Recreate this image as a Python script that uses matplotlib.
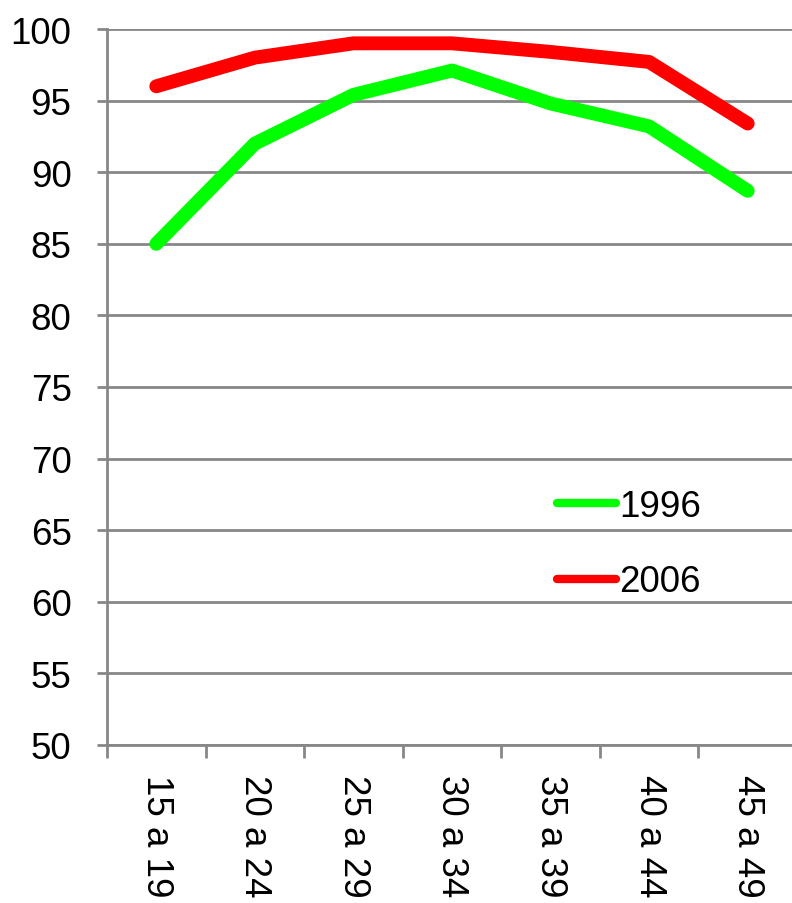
import matplotlib
matplotlib.use("Agg")
import matplotlib.pyplot as plt
from matplotlib.lines import Line2D

categories = ["15 a 19", "20 a 24", "25 a 29", "30 a 34", "35 a 39", "40 a 44", "45 a 49"]
series_1996 = [85.0, 92.0, 95.4, 97.1, 94.8, 93.2, 88.7]
series_2006 = [96.0, 98.0, 99.0, 99.0, 98.4, 97.7, 93.4]
y_ticks = [50, 55, 60, 65, 70, 75, 80, 85, 90, 95, 100]

plt.rcParams['font.family'] = ['Liberation Sans', 'DejaVu Sans']

W, H = 792, 904
fig = plt.figure(figsize=(W / 100, H / 100), dpi=100)
ax = fig.add_axes([107 / W, 158 / H, (797 - 107) / W, (746 - 30) / H])

x = list(range(len(categories)))
grid_c = "#878787"
ax.plot(x, series_1996, color="#00FF00", lw=10, solid_capstyle="round", solid_joinstyle="round", label="1996", zorder=3)
ax.plot(x, series_2006, color="#FF0000", lw=10, solid_capstyle="round", solid_joinstyle="round", label="2006", zorder=3)

ax.set_ylim(50, 100)
ax.set_xlim(-0.5, len(categories) - 0.5)
ax.set_yticks(y_ticks)
ax.set_yticklabels([str(v) for v in y_ticks], fontsize=26.5)
ax.yaxis.grid(True, color=grid_c, lw=2)
ax.set_axisbelow(True)

ax.set_xticks([i - 0.5 for i in range(len(categories) + 1)])
ax.set_xticklabels([])
ax.set_xticks(x, minor=True)
ax.set_xticklabels(categories, minor=True, rotation=270, fontsize=26.5, va="top", ha="center")
ax.tick_params(axis="x", which="major", length=9, width=2, color=grid_c)
ax.tick_params(axis="x", which="minor", length=0, pad=21)
ax.tick_params(axis="y", length=7.5, width=2, color=grid_c, pad=18)

for s in ["top", "right"]:
    ax.spines[s].set_visible(False)
for s in ["left", "bottom"]:
    ax.spines[s].set_color(grid_c)
    ax.spines[s].set_linewidth(2)

handles = [Line2D([], [], color="#00FF00", lw=6, solid_capstyle="round"),
           Line2D([], [], color="#FF0000", lw=6, solid_capstyle="round")]
leg = ax.legend(handles, ["1996", "2006"], loc="upper left",
                bbox_to_anchor=(557 / W, 1 - 490 / H), bbox_transform=fig.transFigure,
                frameon=False, fontsize=26.5, handlelength=1.6, handletextpad=0.1,
                borderpad=0, borderaxespad=0, labelspacing=1.1)

fig.savefig("out.png", dpi=100)
